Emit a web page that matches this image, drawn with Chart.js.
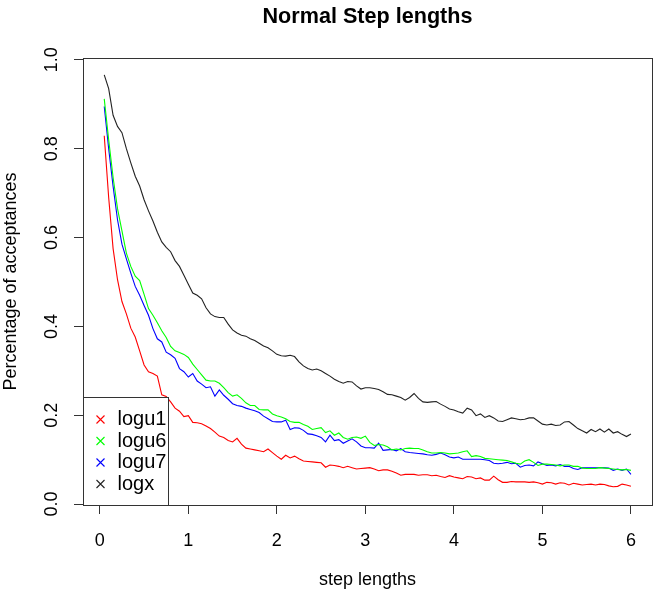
<!DOCTYPE html>
<html>
<head>
<meta charset="utf-8">
<script src="https://cdn.jsdelivr.net/npm/chart.js@4"></script>
<style>
  html, body { margin: 0; padding: 0; background: #fff; }
</style>
</head>
<body>
<canvas id="stepChart" width="654" height="593"></canvas>
<script>
// step lengths sampled every 0.05
const stepLengths = [
    0.05, 0.10, 0.15, 0.20, 0.25, 0.30, 0.35, 0.40, 0.45, 0.50,
    0.55, 0.60, 0.65, 0.70, 0.75, 0.80, 0.85, 0.90, 0.95, 1.00,
    1.05, 1.10, 1.15, 1.20, 1.25, 1.30, 1.35, 1.40, 1.45, 1.50,
    1.55, 1.60, 1.65, 1.70, 1.75, 1.80, 1.85, 1.90, 1.95, 2.00,
    2.05, 2.10, 2.15, 2.20, 2.25, 2.30, 2.35, 2.40, 2.45, 2.50,
    2.55, 2.60, 2.65, 2.70, 2.75, 2.80, 2.85, 2.90, 2.95, 3.00,
    3.05, 3.10, 3.15, 3.20, 3.25, 3.30, 3.35, 3.40, 3.45, 3.50,
    3.55, 3.60, 3.65, 3.70, 3.75, 3.80, 3.85, 3.90, 3.95, 4.00,
    4.05, 4.10, 4.15, 4.20, 4.25, 4.30, 4.35, 4.40, 4.45, 4.50,
    4.55, 4.60, 4.65, 4.70, 4.75, 4.80, 4.85, 4.90, 4.95, 5.00,
    5.05, 5.10, 5.15, 5.20, 5.25, 5.30, 5.35, 5.40, 5.45, 5.50,
    5.55, 5.60, 5.65, 5.70, 5.75, 5.80, 5.85, 5.90, 5.95, 6.00
];

const logu1 = [
    0.829, 0.690, 0.575, 0.505, 0.456, 0.428, 0.396, 0.376, 0.345, 0.313,
    0.298, 0.294, 0.288, 0.246, 0.242, 0.230, 0.216, 0.209, 0.197, 0.199,
    0.184, 0.183, 0.181, 0.176, 0.170, 0.162, 0.153, 0.150, 0.143, 0.140,
    0.148, 0.135, 0.126, 0.124, 0.122, 0.120, 0.118, 0.124, 0.116, 0.108,
    0.101, 0.110, 0.104, 0.108, 0.102, 0.097, 0.096, 0.095, 0.094, 0.093,
    0.083, 0.088, 0.087, 0.085, 0.082, 0.085, 0.082, 0.079, 0.080, 0.081,
    0.082, 0.079, 0.075, 0.077, 0.077, 0.074, 0.070, 0.065, 0.067, 0.067,
    0.067, 0.065, 0.066, 0.066, 0.064, 0.065, 0.062, 0.060, 0.064, 0.061,
    0.059, 0.057, 0.062, 0.061, 0.057, 0.059, 0.054, 0.054, 0.063, 0.055,
    0.049, 0.049, 0.051, 0.050, 0.050, 0.050, 0.049, 0.050, 0.048, 0.045,
    0.049, 0.048, 0.045, 0.048, 0.047, 0.043, 0.047, 0.045, 0.043, 0.044,
    0.045, 0.043, 0.045, 0.044, 0.041, 0.039, 0.040, 0.045, 0.043, 0.040
];

const logu6 = [
    0.912, 0.820, 0.735, 0.665, 0.615, 0.565, 0.535, 0.513, 0.503, 0.472,
    0.440, 0.425, 0.408, 0.390, 0.375, 0.355, 0.345, 0.341, 0.337, 0.330,
    0.315, 0.303, 0.291, 0.279, 0.277, 0.277, 0.272, 0.262, 0.251, 0.243,
    0.246, 0.238, 0.228, 0.222, 0.222, 0.213, 0.212, 0.212, 0.203, 0.199,
    0.196, 0.192, 0.186, 0.184, 0.184, 0.179, 0.175, 0.168, 0.170, 0.172,
    0.161, 0.165, 0.155, 0.160, 0.150, 0.146, 0.150, 0.151, 0.148, 0.153,
    0.139, 0.132, 0.134, 0.133, 0.129, 0.122, 0.124, 0.122, 0.125, 0.126,
    0.125, 0.125, 0.122, 0.118, 0.115, 0.115, 0.116, 0.115, 0.113, 0.114,
    0.115, 0.118, 0.120, 0.107, 0.109, 0.107, 0.103, 0.102, 0.101, 0.100,
    0.099, 0.098, 0.095, 0.092, 0.090, 0.097, 0.100, 0.094, 0.087, 0.090,
    0.090, 0.089, 0.088, 0.086, 0.088, 0.088, 0.085, 0.085, 0.081, 0.080,
    0.080, 0.080, 0.082, 0.081, 0.080, 0.079, 0.078, 0.077, 0.078, 0.076
];

const logu7 = [
    0.895, 0.800, 0.715, 0.640, 0.585, 0.552, 0.520, 0.490, 0.470, 0.447,
    0.425, 0.395, 0.372, 0.365, 0.342, 0.336, 0.328, 0.305, 0.298, 0.286,
    0.294, 0.277, 0.270, 0.262, 0.264, 0.243, 0.257, 0.245, 0.236, 0.226,
    0.222, 0.220, 0.216, 0.213, 0.210, 0.206, 0.198, 0.192, 0.186, 0.185,
    0.185, 0.189, 0.168, 0.172, 0.171, 0.166, 0.158, 0.157, 0.154, 0.150,
    0.140, 0.155, 0.143, 0.145, 0.137, 0.142, 0.147, 0.140, 0.131, 0.127,
    0.127, 0.126, 0.137, 0.121, 0.122, 0.123, 0.120, 0.125, 0.118, 0.116,
    0.115, 0.114, 0.113, 0.111, 0.110, 0.112, 0.115, 0.111, 0.106, 0.104,
    0.106, 0.101, 0.101, 0.101, 0.101, 0.101, 0.100, 0.098, 0.092, 0.091,
    0.092, 0.094, 0.091, 0.092, 0.083, 0.087, 0.088, 0.086, 0.095, 0.091,
    0.087, 0.088, 0.086, 0.089, 0.085, 0.085, 0.080, 0.078, 0.082, 0.082,
    0.082, 0.082, 0.082, 0.082, 0.081, 0.076, 0.079, 0.076, 0.079, 0.067
];

const logx = [
    0.966, 0.935, 0.875, 0.850, 0.836, 0.800, 0.768, 0.738, 0.716, 0.685,
    0.660, 0.637, 0.612, 0.590, 0.578, 0.568, 0.548, 0.535, 0.515, 0.495,
    0.475, 0.470, 0.462, 0.442, 0.428, 0.422, 0.420, 0.420, 0.405, 0.392,
    0.385, 0.380, 0.378, 0.372, 0.368, 0.362, 0.356, 0.352, 0.345, 0.337,
    0.334, 0.333, 0.335, 0.332, 0.320, 0.311, 0.305, 0.302, 0.304, 0.300,
    0.294, 0.288, 0.281, 0.276, 0.272, 0.276, 0.275, 0.266, 0.259, 0.262,
    0.262, 0.260, 0.258, 0.253, 0.247, 0.246, 0.243, 0.240, 0.234, 0.240,
    0.249, 0.238, 0.230, 0.229, 0.230, 0.231, 0.225, 0.220, 0.214, 0.212,
    0.208, 0.205, 0.216, 0.212, 0.199, 0.203, 0.195, 0.199, 0.194, 0.187,
    0.186, 0.190, 0.194, 0.192, 0.190, 0.191, 0.194, 0.194, 0.187, 0.180,
    0.178, 0.180, 0.177, 0.178, 0.185, 0.186, 0.178, 0.170, 0.165, 0.160,
    0.168, 0.163, 0.169, 0.162, 0.169, 0.160, 0.163, 0.157, 0.152, 0.158
];

const seriesNames = ['logu1', 'logu6', 'logu7', 'logx'];
const seriesValues = [logu1, logu6, logu7, logx];
const seriesColors = ['rgb(255, 0, 0)', 'rgb(0, 255, 0)', 'rgb(0, 0, 255)', 'rgb(34, 34, 34)'];

const xTicks = [0, 1, 2, 3, 4, 5, 6];
const yTicks = [0.0, 0.2, 0.4, 0.6, 0.8, 1.0];
const chartTitle = 'Normal Step lengths';

const FONT = "'Liberation Sans', Arial, Helvetica, sans-serif";
Chart.defaults.font.family = FONT;
Chart.defaults.color = '#000';

// plot frame like R's box(), title centred over the plot region
const boxPlugin = {
    id: 'plotBox',
    afterDraw(chart) {
        const { ctx, chartArea: a } = chart;
        ctx.save();
        ctx.strokeStyle = '#333';
        ctx.lineWidth = 1;
        ctx.strokeRect(Math.round(a.left) + 0.5, Math.round(a.top) + 0.5,
            Math.round(a.right - a.left), Math.round(a.bottom - a.top));
        ctx.font = 'bold 21.6px ' + FONT;
        ctx.fillStyle = '#000';
        ctx.textAlign = 'center';
        ctx.textBaseline = 'middle';
        ctx.fillText(chartTitle, (a.left + a.right) / 2, 17);
        ctx.restore();
    }
};

// bottomleft legend with x symbols (pch = 4)
const crossLegend = {
    id: 'crossLegend',
    afterDatasetsDraw(chart) {
        const { ctx, chartArea: a } = chart;
        const w = 85, h = 108;
        const left = Math.round(a.left) + 0.5;
        const top = Math.round(a.bottom) - h + 0.5;
        ctx.save();
        ctx.fillStyle = '#fff';
        ctx.fillRect(left, top, w, h);
        ctx.strokeStyle = '#333';
        ctx.lineWidth = 1;
        ctx.strokeRect(left, top, w, h);
        ctx.font = '20px ' + FONT;
        ctx.textBaseline = 'middle';
        for (let i = 0; i < seriesNames.length; i++) {
            const y = top + 22 + i * 21.5;
            const sx = left + 17, r = 4;
            ctx.save();
            ctx.strokeStyle = seriesColors[i];
            ctx.lineWidth = 1.1;
            ctx.beginPath();
            ctx.moveTo(sx - r, y - r);
            ctx.lineTo(sx + r, y + r);
            ctx.moveTo(sx - r, y + r);
            ctx.lineTo(sx + r, y - r);
            ctx.stroke();
            ctx.restore();
            ctx.fillStyle = '#000';
            ctx.fillText(seriesNames[i], left + 34, y);
        }
        ctx.restore();
    }
};

new Chart(document.getElementById('stepChart'), {
    type: 'line',
    data: {
        datasets: seriesNames.map((name, i) => ({
            label: name,
            data: stepLengths.map((x, j) => ({ x: x, y: seriesValues[i][j] })),
            borderColor: seriesColors[i],
            borderWidth: 1.1,
            pointRadius: 0,
            tension: 0,
            fill: false
        }))
    },
    options: {
        responsive: false,
        animation: false,
        events: [],
        layout: { padding: { left: 0, right: 2, top: 58, bottom: 0 } },
        plugins: {
            legend: { display: false },
            tooltip: { enabled: false },
            title: { display: false }
        },
        scales: {
            x: {
                type: 'linear',
                min: -0.19,
                max: 6.238,
                afterBuildTicks: s => { s.ticks = xTicks.map(v => ({ value: v })); },
                afterFit: s => { s.height = 88; },
                ticks: {
                    font: { size: 18 },
                    color: '#000',
                    padding: 16,
                    maxRotation: 0,
                    callback: v => String(v)
                },
                grid: {
                    drawOnChartArea: false,
                    drawTicks: true,
                    tickLength: 9,
                    color: '#333',
                    tickColor: '#333'
                },
                border: { display: false },
                title: {
                    display: true,
                    text: 'step lengths',
                    font: { size: 18 },
                    padding: { top: 0, bottom: 2.2 }
                }
            },
            y: {
                type: 'linear',
                min: -0.002,
                max: 1.004,
                afterBuildTicks: s => { s.ticks = yTicks.map(v => ({ value: v })); },
                afterFit: s => { s.width = 83; },
                ticks: {
                    font: { size: 18 },
                    color: '#000',
                    minRotation: 90,
                    maxRotation: 90,
                    crossAlign: 'center',
                    padding: 9.5,
                    callback: v => v.toFixed(1)
                },
                grid: {
                    drawOnChartArea: false,
                    drawTicks: true,
                    tickLength: 9,
                    color: '#333',
                    tickColor: '#333'
                },
                border: { display: false },
                title: {
                    display: true,
                    text: 'Percentage of acceptances',
                    font: { size: 18 },
                    padding: { top: 0.2, bottom: 0 }
                }
            }
        }
    },
    plugins: [crossLegend, boxPlugin]
});
</script>
</body>
</html>
